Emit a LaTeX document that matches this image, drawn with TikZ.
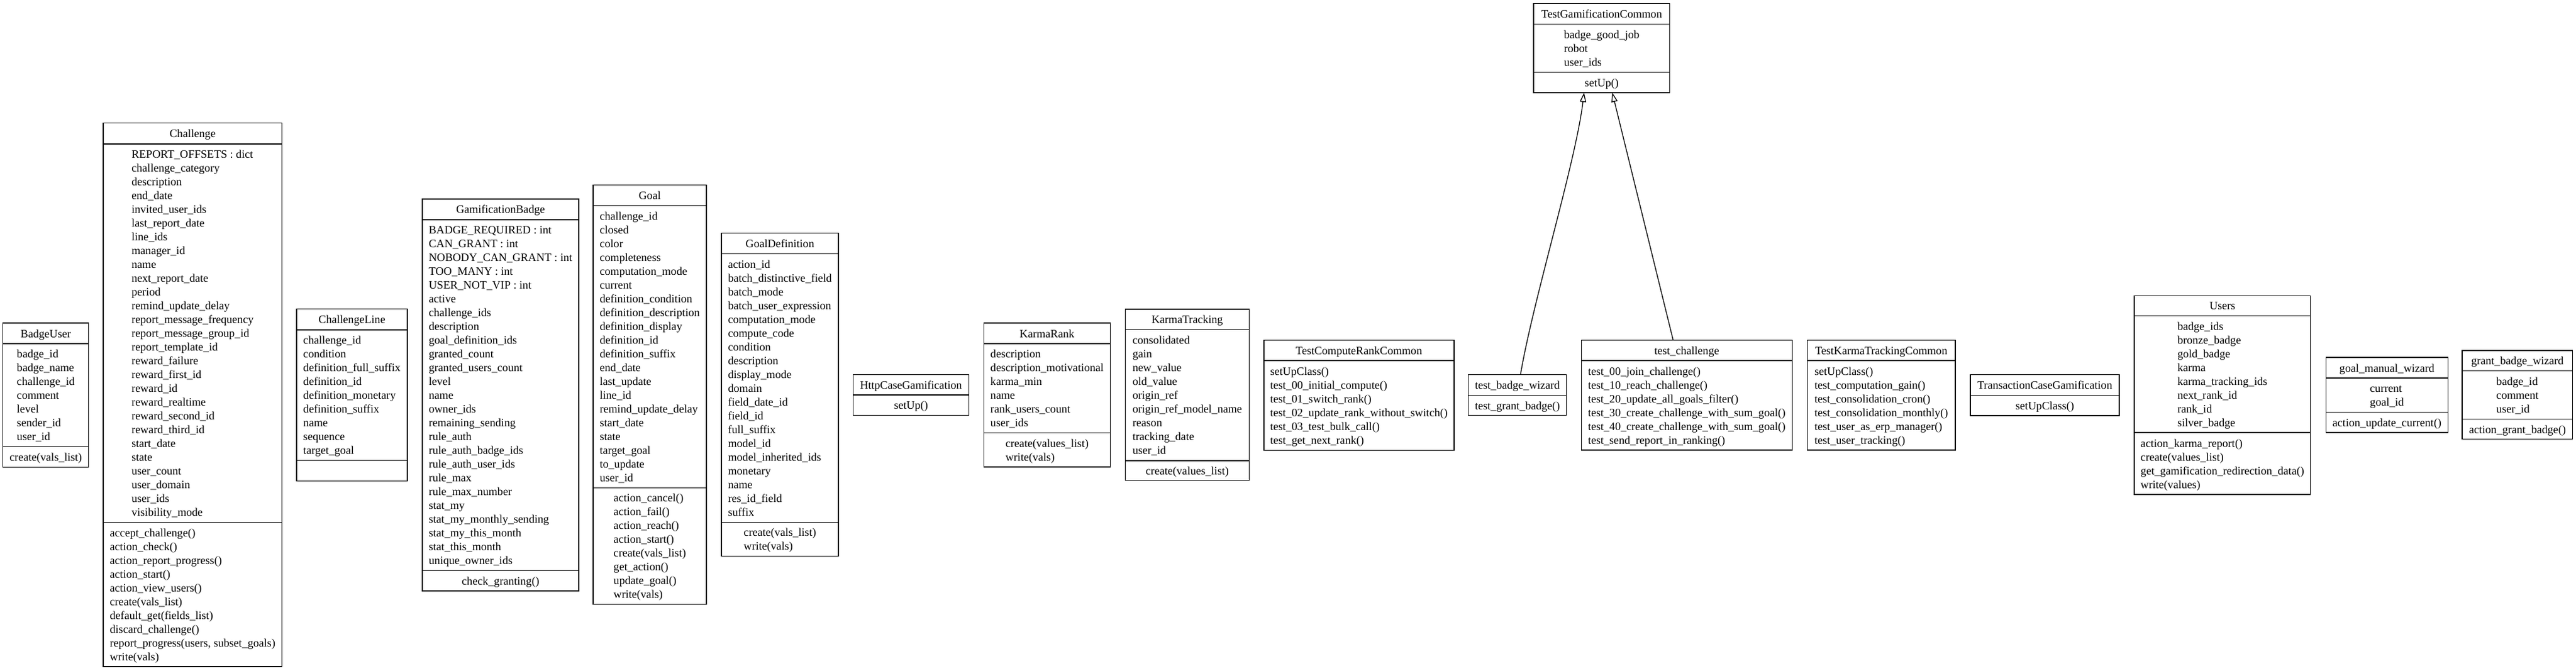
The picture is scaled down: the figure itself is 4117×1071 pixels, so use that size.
\documentclass[tikz,border=0pt]{standalone}
\usepackage{fontspec}
\setmainfont{Liberation Serif}
\usetikzlibrary{arrows.meta}
\tikzset{
  clsframe/.style={draw=black, line width=1.4pt, inner sep=0pt, outer sep=0pt},
  clstxt/.style={inner sep=0pt, font=\fontsize{18.1}{22}\selectfont, yshift=-2.1pt},
  clsrule/.style={draw=black, line width=1.4pt},
  inherit/.style={draw=black, line width=1.3pt, -{Triangle[length=15pt,width=10pt,fill=white]}}
}
\newcommand\mkbox[5]{\node[clsframe, minimum width={#3-#2}, minimum height={#5-#4}] (#1) at ({(#2+#3)/2},{(#4+#5)/2}) {};}
\newcommand\clstext[6]{\node[clstxt] (#1) at ({(#2+#3)/2},{(#4+#5)/2}) {\begin{tabular}{@{}l@{}}#6\end{tabular}};}
\newcommand\clsrule[3]{\draw[clsrule] (#1,#3) -- (#2,#3);}
\begin{document}
\begin{tikzpicture}[x=1pt,y=-1pt]
\useasboundingbox (0,0) rectangle (4117,1071);

% BadgeUser
\mkbox{BU}{4.7}{141.7}{516}{746.7}
\clsrule{4.7}{141.7}{549}\clsrule{4.7}{141.7}{713.7}
\clstext{BU-t}{4.7}{141.7}{516}{549}{BadgeUser}
\clstext{BU-a}{4.7}{141.7}{549}{713.7}{badge\_id\\badge\_name\\challenge\_id\\comment\\level\\sender\_id\\user\_id}
\clstext{BU-m}{4.7}{141.7}{713.7}{746.7}{create(vals\_list)}

% Challenge
\mkbox{CH}{165}{450.7}{196.7}{1065}
\clsrule{165}{450.7}{230}\clsrule{165}{450.7}{834.3}
\clstext{CH-t}{165}{450.7}{196.7}{230}{Challenge}
\clstext{CH-a}{165}{450.7}{230}{834.3}{REPORT\_OFFSETS : dict\\challenge\_category\\description\\end\_date\\invited\_user\_ids\\last\_report\_date\\line\_ids\\manager\_id\\name\\next\_report\_date\\period\\remind\_update\_delay\\report\_message\_frequency\\report\_message\_group\_id\\report\_template\_id\\reward\_failure\\reward\_first\_id\\reward\_id\\reward\_realtime\\reward\_second\_id\\reward\_third\_id\\start\_date\\state\\user\_count\\user\_domain\\user\_ids\\visibility\_mode}
\clstext{CH-m}{165}{450.7}{834.3}{1065}{accept\_challenge()\\action\_check()\\action\_report\_progress()\\action\_start()\\action\_view\_users()\\create(vals\_list)\\default\_get(fields\_list)\\discard\_challenge()\\report\_progress(users, subset\_goals)\\write(vals)}

% ChallengeLine
\mkbox{CL}{474}{651}{493.6}{768.5}
\clsrule{474}{651}{526.8}\clsrule{474}{651}{735.3}
\clstext{CL-t}{474}{651}{493.6}{526.8}{ChallengeLine}
\clstext{CL-a}{474}{651}{526.8}{735.3}{challenge\_id\\condition\\definition\_full\_suffix\\definition\_id\\definition\_monetary\\definition\_suffix\\name\\sequence\\target\_goal}

% GamificationBadge
\mkbox{GB}{675}{925}{317.8}{943.9}
\clsrule{675}{925}{351}\clsrule{675}{925}{911.5}
\clstext{GB-t}{675}{925}{317.8}{351}{GamificationBadge}
\clstext{GB-a}{675}{925}{351}{911.5}{BADGE\_REQUIRED : int\\CAN\_GRANT : int\\NOBODY\_CAN\_GRANT : int\\TOO\_MANY : int\\USER\_NOT\_VIP : int\\active\\challenge\_ids\\description\\goal\_definition\_ids\\granted\_count\\granted\_users\_count\\level\\name\\owner\_ids\\remaining\_sending\\rule\_auth\\rule\_auth\_badge\_ids\\rule\_auth\_user\_ids\\rule\_max\\rule\_max\_number\\stat\_my\\stat\_my\_monthly\_sending\\stat\_my\_this\_month\\stat\_this\_month\\unique\_owner\_ids}
\clstext{GB-m}{675}{925}{911.5}{943.9}{check\_granting()}

% Goal
\mkbox{GO}{948}{1129}{295.7}{965.5}
\clsrule{948}{1129}{328.7}\clsrule{948}{1129}{779.3}
\clstext{GO-t}{948}{1129}{295.7}{328.7}{Goal}
\clstext{GO-a}{948}{1129}{328.7}{779.3}{challenge\_id\\closed\\color\\completeness\\computation\_mode\\current\\definition\_condition\\definition\_description\\definition\_display\\definition\_id\\definition\_suffix\\end\_date\\last\_update\\line\_id\\remind\_update\_delay\\start\_date\\state\\target\_goal\\to\_update\\user\_id}
\clstext{GO-m}{948}{1129}{779.3}{965.5}{action\_cancel()\\action\_fail()\\action\_reach()\\action\_start()\\create(vals\_list)\\get\_action()\\update\_goal()\\write(vals)}

% GoalDefinition
\mkbox{GD}{1153}{1340}{372.7}{888.5}
\clsrule{1153}{1340}{405.7}\clsrule{1153}{1340}{834.3}
\clstext{GD-t}{1153}{1340}{372.7}{405.7}{GoalDefinition}
\clstext{GD-a}{1153}{1340}{405.7}{834.3}{action\_id\\batch\_distinctive\_field\\batch\_mode\\batch\_user\_expression\\computation\_mode\\compute\_code\\condition\\description\\display\_mode\\domain\\field\_date\_id\\field\_id\\full\_suffix\\model\_id\\model\_inherited\_ids\\monetary\\name\\res\_id\_field\\suffix}
\clstext{GD-m}{1153}{1340}{834.3}{888.5}{create(vals\_list)\\write(vals)}

% HttpCaseGamification
\mkbox{HC}{1363.3}{1548.6}{598.3}{663.7}
\clsrule{1363.3}{1548.6}{631}
\clstext{HC-t}{1363.3}{1548.6}{598.3}{631}{HttpCaseGamification}
\clstext{HC-m}{1363.3}{1548.6}{631}{663.7}{setUp()}

% KarmaRank
\mkbox{KR}{1572.3}{1774.6}{516}{746}
\clsrule{1572.3}{1774.6}{549}\clsrule{1572.3}{1774.6}{691.7}
\clstext{KR-t}{1572.3}{1774.6}{516}{549}{KarmaRank}
\clstext{KR-a}{1572.3}{1774.6}{549}{691.7}{description\\description\_motivational\\karma\_min\\name\\rank\_users\_count\\user\_ids}
\clstext{KR-m}{1572.3}{1774.6}{691.7}{746}{create(values\_list)\\write(vals)}

% KarmaTracking
\mkbox{KT}{1798.6}{1996.4}{494}{767.7}
\clsrule{1798.6}{1996.4}{526.7}\clsrule{1798.6}{1996.4}{736}
\clstext{KT-t}{1798.6}{1996.4}{494}{526.7}{KarmaTracking}
\clstext{KT-a}{1798.6}{1996.4}{526.7}{736}{consolidated\\gain\\new\_value\\old\_value\\origin\_ref\\origin\_ref\_model\_name\\reason\\tracking\_date\\user\_id}
\clstext{KT-m}{1798.6}{1996.4}{736}{767.7}{create(values\_list)}

% TestComputeRankCommon
\mkbox{TCR}{2019.9}{2323.8}{543.3}{719.3}
\clsrule{2019.9}{2323.8}{576}
\clstext{TCR-t}{2019.9}{2323.8}{543.3}{576}{TestComputeRankCommon}
\clstext{TCR-m}{2019.9}{2323.8}{576}{719.3}{setUpClass()\\test\_00\_initial\_compute()\\test\_01\_switch\_rank()\\test\_02\_update\_rank\_without\_switch()\\test\_03\_test\_bulk\_call()\\test\_get\_next\_rank()}

% test_badge_wizard
\mkbox{tbw}{2346.6}{2503.7}{598.7}{663.7}
\clsrule{2346.6}{2503.7}{631.7}
\clstext{tbw-t}{2346.6}{2503.7}{598.7}{631.7}{test\_badge\_wizard}
\clstext{tbw-m}{2346.6}{2503.7}{631.7}{663.7}{test\_grant\_badge()}

% test_challenge
\mkbox{tch}{2527.3}{2864.3}{543.3}{719}
\clsrule{2527.3}{2864.3}{576}
\clstext{tch-t}{2527.3}{2864.3}{543.3}{576}{test\_challenge}
\clstext{tch-m}{2527.3}{2864.3}{576}{719}{test\_00\_join\_challenge()\\test\_10\_reach\_challenge()\\test\_20\_update\_all\_goals\_filter()\\test\_30\_create\_challenge\_with\_sum\_goal()\\test\_40\_create\_challenge\_with\_sum\_goal()\\test\_send\_report\_in\_ranking()}

% TestGamificationCommon
\mkbox{tgc}{2451}{2668.7}{5.7}{148}
\clsrule{2451}{2668.7}{38.7}\clsrule{2451}{2668.7}{115.3}
\clstext{tgc-t}{2451}{2668.7}{5.7}{38.7}{TestGamificationCommon}
\clstext{tgc-a}{2451}{2668.7}{38.7}{115.3}{badge\_good\_job\\robot\\user\_ids}
\clstext{tgc-m}{2451}{2668.7}{115.3}{148}{setUp()}

% TestKarmaTrackingCommon
\mkbox{TKT}{2888.3}{3125}{543.3}{719}
\clsrule{2888.3}{3125}{576}
\clstext{TKT-t}{2888.3}{3125}{543.3}{576}{TestKarmaTrackingCommon}
\clstext{TKT-m}{2888.3}{3125}{576}{719}{setUpClass()\\test\_computation\_gain()\\test\_consolidation\_cron()\\test\_consolidation\_monthly()\\test\_user\_as\_erp\_manager()\\test\_user\_tracking()}

% TransactionCaseGamification
\mkbox{TCG}{3149}{3387}{598.3}{664}
\clsrule{3149}{3387}{631.3}
\clstext{TCG-t}{3149}{3387}{598.3}{631.3}{TransactionCaseGamification}
\clstext{TCG-m}{3149}{3387}{631.3}{664}{setUpClass()}

% Users
\mkbox{US}{3411}{3692.7}{472.3}{790}
\clsrule{3411}{3692.7}{504.3}\clsrule{3411}{3692.7}{691}
\clstext{US-t}{3411}{3692.7}{472.3}{504.3}{Users}
\clstext{US-a}{3411}{3692.7}{504.3}{691}{badge\_ids\\bronze\_badge\\gold\_badge\\karma\\karma\_tracking\_ids\\next\_rank\_id\\rank\_id\\silver\_badge}
\clstext{US-m}{3411}{3692.7}{691}{790}{action\_karma\_report()\\create(values\_list)\\get\_gamification\_redirection\_data()\\write(values)}

% goal_manual_wizard
\mkbox{gmw}{3717.3}{3912.3}{571}{691}
\clsrule{3717.3}{3912.3}{604}\clsrule{3717.3}{3912.3}{658.3}
\clstext{gmw-t}{3717.3}{3912.3}{571}{604}{goal\_manual\_wizard}
\clstext{gmw-a}{3717.3}{3912.3}{604}{658.3}{current\\goal\_id}
\clstext{gmw-m}{3717.3}{3912.3}{658.3}{691}{action\_update\_current()}

% grant_badge_wizard
\mkbox{gbw}{3935}{4111.7}{560}{701.7}
\clsrule{3935}{4111.7}{592.7}\clsrule{3935}{4111.7}{669.3}
\clstext{gbw-t}{3935}{4111.7}{560}{592.7}{grant\_badge\_wizard}
\clstext{gbw-a}{3935}{4111.7}{592.7}{669.3}{badge\_id\\comment\\user\_id}
\clstext{gbw-m}{3935}{4111.7}{669.3}{701.7}{action\_grant\_badge()}

% inheritance
\draw[inherit] ([xshift=4.85pt]tbw.north) .. controls (2450,480) and (2518,260) .. ([xshift=-28.15pt]tgc.south);
\draw[inherit] ([xshift=-21.8pt]tch.north) -- ([xshift=16.85pt]tgc.south);
\end{tikzpicture}
\end{document}
